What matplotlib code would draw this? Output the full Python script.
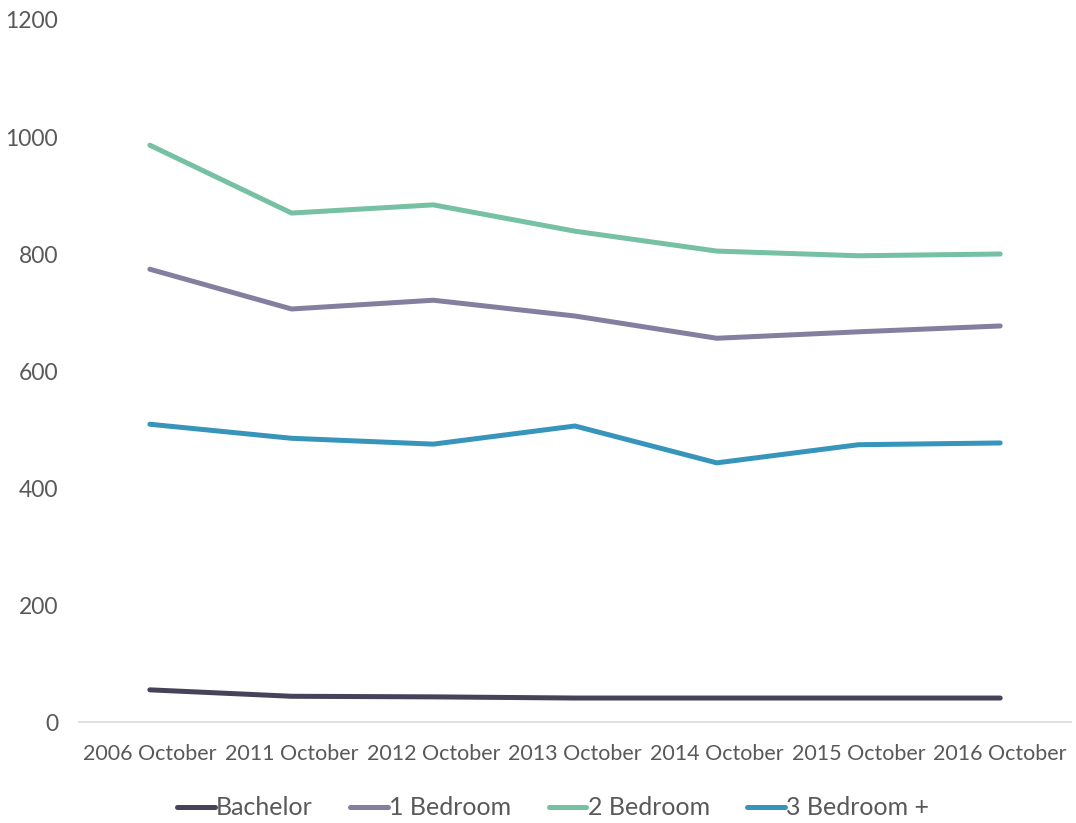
import matplotlib
matplotlib.use("Agg")
import matplotlib.pyplot as plt

categories = ["2006 October", "2011 October", "2012 October", "2013 October",
              "2014 October", "2015 October", "2016 October"]
bachelor = [55, 44, 43, 41, 41, 41, 41]
one_bed = [774, 706, 721, 694, 656, 667, 677]
two_bed = [986, 870, 884, 839, 805, 797, 800]
three_bed = [509, 485, 475, 506, 443, 474, 477]
series_names = ["Bachelor", "1 Bedroom", "2 Bedroom", "3 Bedroom +"]
colors = ["#45425a", "#857f9f", "#76c0a3", "#3795bb"]

plt.rcParams['font.family'] = ['Lato', 'DejaVu Sans']
fig = plt.figure(figsize=(10.76, 8.23), dpi=100)
ax = fig.add_axes([0.0734, 0.1227, 0.922, 0.853])

x = list(range(len(categories)))
for vals, name, c in zip([bachelor, one_bed, two_bed, three_bed], series_names, colors):
    ax.plot(x, vals, color=c, lw=3.6, label=name, solid_capstyle='round')

ax.set_xlim(-0.5, len(categories) - 0.5)
ax.set_ylim(0, 1200)
ax.set_yticks([0, 200, 400, 600, 800, 1000, 1200])
ax.set_xticks(x)
ax.set_xticklabels(categories)
for s in ["top", "right", "left"]:
    ax.spines[s].set_visible(False)
ax.spines["bottom"].set_color("#d9d9d9")
ax.spines["bottom"].set_linewidth(1.2)
ax.tick_params(axis="y", length=0, labelsize=16.5, colors="#595959", pad=15)
ax.tick_params(axis="x", length=0, labelsize=15.5, colors="#595959", pad=16)

leg = ax.legend(loc="upper center", bbox_to_anchor=(0.478, -0.074), ncol=4, frameon=False,
                fontsize=18, handlelength=1.5, handletextpad=0.05, columnspacing=1.5)
for t in leg.get_texts():
    t.set_color("#595959")

fig.savefig("out.png", dpi=100)
